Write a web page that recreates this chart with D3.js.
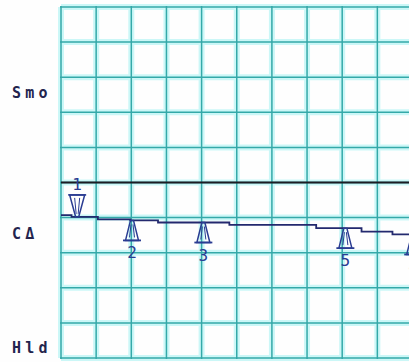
<!DOCTYPE html>
<html><head><meta charset="utf-8">
<script src="https://cdn.jsdelivr.net/npm/d3@7"></script>
<style>
html,body{margin:0;padding:0;background:#fff;}
svg{display:block;}
</style>
</head><body>
<script>
// ---- data (grid divisions) ----
const xDivs = [0,1,2,3,4,5,6,7,8,9,10];
const yDivs = [-5,-4,-3,-2,-1,0,1,2,3,4,5];
const refLevel = 0;
// trace: step segments, x in divisions, value in divisions relative to ref
const traceX = [0, 0.3, 1.05, 1.97, 2.76, 4.79, 7.26, 8.55, 9.43, 10];
const traceY = [-0.93, -0.98, -1.05, -1.08, -1.14, -1.21, -1.30, -1.40, -1.48, -1.48];
// markers
const markerIds  = ["1", "2", "3", "5", "4"];
const markerX    = [0.46, 2.02, 4.05, 8.09, 10.02];
const markerDown = [true, false, false, false, false];
// side labels
const sideLabels = ["Smo", "C\u0394", "Hld"];
const sideLabelY = [2.4, -1.6, -4.85];

const W = 409, H = 362;
const x = d3.scaleLinear().domain([0,10]).range([61, 412.5]);
const y = d3.scaleLinear().domain([-5,5]).range([358, 7]);

const svg = d3.select("body").append("svg").attr("width", W).attr("height", H);
svg.append("rect").attr("width", W).attr("height", H).attr("fill", "#fefefe");

const g = svg.append("g");
// glow layer
g.selectAll(".vg").data(xDivs).join("line")
  .attr("x1", d=>x(d)).attr("x2", d=>x(d)).attr("y1", y(5)).attr("y2", y(-5))
  .attr("stroke", "#cbf7f7").attr("stroke-width", 6);
g.selectAll(".hg").data(yDivs).join("line")
  .attr("y1", d=>y(d)).attr("y2", d=>y(d)).attr("x1", x(0)).attr("x2", x(10))
  .attr("stroke", "#cbf7f7").attr("stroke-width", 6);
g.selectAll(".v").data(xDivs).join("line")
  .attr("x1", d=>x(d)).attr("x2", d=>x(d)).attr("y1", y(5)-1).attr("y2", y(-5)+1)
  .attr("stroke", "#34a9a9").attr("stroke-width", 1.5);
g.selectAll(".h").data(yDivs).join("line")
  .attr("y1", d=>y(d)).attr("y2", d=>y(d)).attr("x1", x(0)-1).attr("x2", x(10))
  .attr("stroke", "#34a9a9").attr("stroke-width", 1.5);

// reference line
svg.append("line").attr("x1", x(0)).attr("x2", x(10))
  .attr("y1", y(refLevel)).attr("y2", y(refLevel))
  .attr("stroke", "#1c1c24").attr("stroke-width", 2);

// trace
const pts = traceX.map((d,i)=>[d, traceY[i]]);
const line = d3.line().x(d=>x(d[0])).y(d=>y(d[1])).curve(d3.curveStepAfter);
svg.append("path").datum(pts).attr("d", line)
  .attr("fill", "none").attr("stroke", "#23296e").attr("stroke-width", 1.8);

function traceAt(v){
  let val = traceY[0];
  for (let i=0;i<traceX.length;i++){ if (v >= traceX[i]) val = traceY[i]; }
  return val;
}

// markers
const mc = "#2a3c92";
markerIds.forEach((id,i)=>{
  const mx = x(markerX[i]);
  const my = y(traceAt(markerX[i]));
  const mg = svg.append("g");
  if (markerDown[i]) {
    const top = my - 22;
    mg.append("path").attr("d",
      `M${mx-7.5},${top} L${mx+7.5},${top} L${mx+1.5},${my} L${mx-1.5},${my} Z`)
      .attr("fill","none").attr("stroke",mc).attr("stroke-width",1.5);
    mg.append("line").attr("x1",mx-9).attr("x2",mx+9).attr("y1",top).attr("y2",top)
      .attr("stroke",mc).attr("stroke-width",1.6);
    mg.append("line").attr("x1",mx-2.5).attr("x2",mx-1).attr("y1",top+3).attr("y2",my-3)
      .attr("stroke",mc).attr("stroke-width",1);
    mg.append("line").attr("x1",mx+2.5).attr("x2",mx+1).attr("y1",top+3).attr("y2",my-3)
      .attr("stroke",mc).attr("stroke-width",1);
    mg.append("text").attr("x", mx).attr("y", top - 5)
      .attr("text-anchor","middle").attr("font-family","DejaVu Sans Mono")
      .attr("font-size",16).attr("fill",mc).text(id);
  } else {
    const base = my + 20;
    mg.append("path").attr("d",
      `M${mx-1.5},${my} L${mx+1.5},${my} L${mx+6.5},${base} L${mx-6.5},${base} Z`)
      .attr("fill","none").attr("stroke",mc).attr("stroke-width",1.5);
    mg.append("line").attr("x1",mx-9).attr("x2",mx+9).attr("y1",base).attr("y2",base)
      .attr("stroke",mc).attr("stroke-width",1.8);
    mg.append("line").attr("x1",mx-1).attr("x2",mx-2.5).attr("y1",my+4).attr("y2",base-3)
      .attr("stroke",mc).attr("stroke-width",1);
    mg.append("line").attr("x1",mx+1).attr("x2",mx+2.5).attr("y1",my+4).attr("y2",base-3)
      .attr("stroke",mc).attr("stroke-width",1);
    mg.append("text").attr("x", mx).attr("y", base + 18)
      .attr("text-anchor","middle").attr("font-family","DejaVu Sans Mono")
      .attr("font-size",16).attr("fill",mc).text(id);
  }
});

// side labels
svg.selectAll(".sl").data(sideLabels).join("text")
  .attr("x", 12).attr("y", (d,i)=>y(sideLabelY[i]))
  .attr("font-family","DejaVu Sans Mono").attr("font-size",15).attr("font-weight","bold")
  .attr("letter-spacing", 4.2).attr("fill","#23244e").text(d=>d);
</script>
</body></html>
